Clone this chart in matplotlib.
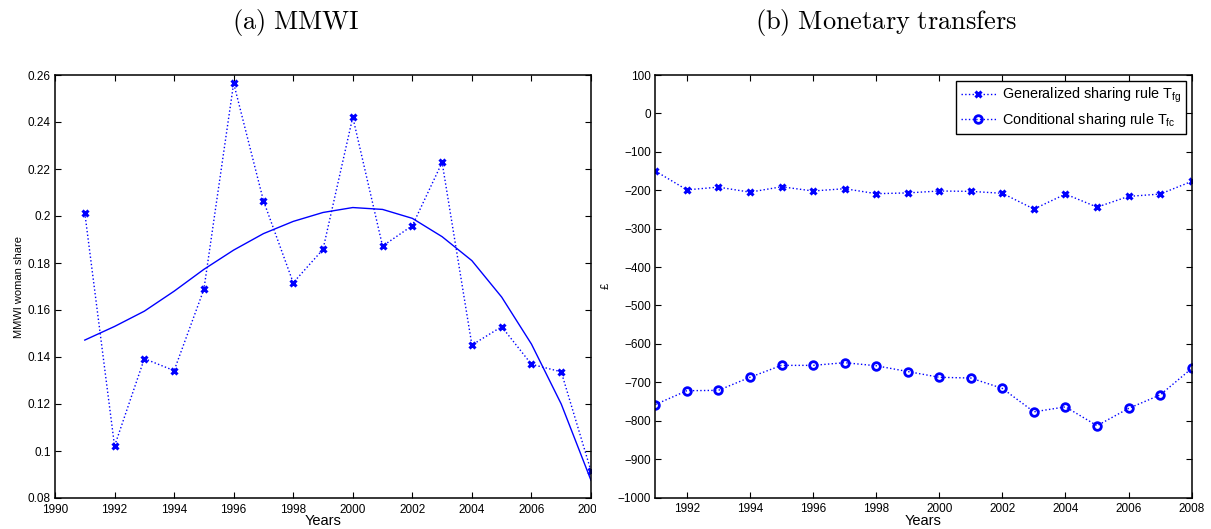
import matplotlib
matplotlib.use("Agg")
import matplotlib.pyplot as plt
from matplotlib.transforms import Bbox, TransformedBbox

plt.rcParams['font.family'] = ['Liberation Sans', 'DejaVu Sans']
plt.rcParams['mathtext.fontset'] = 'custom'
plt.rcParams['mathtext.rm'] = 'Liberation Sans'
plt.rcParams['axes.unicode_minus'] = True

# Data
years = list(range(1991, 2009))
mmwi_share = [0.2014, 0.1021, 0.1393, 0.1342, 0.1688, 0.2565, 0.2065, 0.1716, 0.1858,
              0.2421, 0.1872, 0.1959, 0.2228, 0.1451, 0.1529, 0.1369, 0.1337, 0.0915]
# smooth trend curve at each year
mmwi_trend = [0.1472, 0.1530, 0.1595, 0.1680, 0.1773, 0.1855, 0.1925, 0.1977, 0.2015,
              0.2036, 0.2028, 0.1990, 0.1912, 0.1810, 0.1655, 0.1455, 0.1200, 0.0875]
transfer_general = [-150, -199, -192, -205, -191, -202, -196, -209, -207,
                    -202, -203, -208, -249, -210, -244, -216, -210, -177]
transfer_cond = [-758, -722, -721, -687, -656, -656, -649, -657, -672,
                 -687, -689, -716, -777, -764, -813, -768, -733, -664]

left_xticks = list(range(1990, 2009, 2))
left_yticks = [0.08, 0.10, 0.12, 0.14, 0.16, 0.18, 0.20, 0.22, 0.24, 0.26]
right_xticks = list(range(1992, 2009, 2))
right_yticks = list(range(-1000, 101, 100))

W, H = 1211, 529
fig = plt.figure(figsize=(W / 100, H / 100), dpi=100)

def style(ax):
    ax.tick_params(direction='in', top=True, right=True, length=4, width=0.8,
                   labelsize=8.5)
    ax.tick_params(axis='x', pad=4)
    ax.tick_params(axis='y', pad=3)
    for s in ax.spines.values():
        s.set_linewidth(1.1)

# (a) MMWI
ax1 = fig.add_axes([55 / W, 1 - 498 / H, (591 - 55) / W, (498 - 75) / H])
ax1.plot(years, mmwi_share, ':', color='blue', lw=1.0, marker='x', ms=5, mew=2.2)
ax1.plot(years, mmwi_trend, '-', color='blue', lw=1.0)
ax1.set_xlim(1990, 2008)
ax1.set_ylim(0.08, 0.26)
ax1.set_xticks(left_xticks)
ax1.set_yticks(left_yticks)
ax1.set_yticklabels(['%g' % v for v in left_yticks])
ax1.set_xlabel('Years', fontsize=10.5, labelpad=-1)
ax1.set_ylabel('MMWI woman share', fontsize=8, labelpad=3)
style(ax1)
# the last year label is cut by the neighbouring panel
clip = TransformedBbox(Bbox([[0, 0], [596 / W, 1]]), fig.transFigure)
for lbl in ax1.get_xticklabels():
    lbl.set_clip_on(True)
    lbl.set_clip_box(clip)

# (b) Monetary transfers
ax2 = fig.add_axes([655.3 / W, 1 - 497.5 / H, (1191.7 - 655.3) / W, (497.5 - 75) / H])
ax2.plot(years, transfer_general, ':', color='blue', lw=1.0, marker='x', ms=5, mew=2.2,
         label=r'Generalized sharing rule T$_{\mathregular{fg}}$')
ax2.plot(years, transfer_cond, ':', color='blue', lw=1.0, marker='o', ms=5.5, mew=2.0,
         mfc='none', label=r'Conditional sharing rule T$_{\mathregular{fc}}$')
ax2.set_xlim(1991, 2008)
ax2.set_ylim(-1000, 100)
ax2.set_xticks(right_xticks)
ax2.set_yticks(right_yticks)
ax2.set_xlabel('Years', fontsize=10.5, labelpad=-1)
ax2.set_ylabel('£', fontsize=8, labelpad=5)
style(ax2)
leg = ax2.legend(loc='upper right', fontsize=10.4, fancybox=False, framealpha=1,
                 edgecolor='black', borderpad=0.35, handlelength=2.4, handletextpad=0.4,
                 labelspacing=0.4, borderaxespad=0.4)
leg.get_frame().set_linewidth(1.0)

# subfigure captions
fig.text(296 / W, 1 - 23 / H, r'$\mathrm{(a)\ MMWI}$', ha='center', va='center',
         fontsize=19, math_fontfamily='cm')
fig.text(886 / W, 1 - 23 / H, r'$\mathrm{(b)\ Monetary\ transfers}$', ha='center',
         va='center', fontsize=19, math_fontfamily='cm')

fig.savefig('out.png', dpi=100)
